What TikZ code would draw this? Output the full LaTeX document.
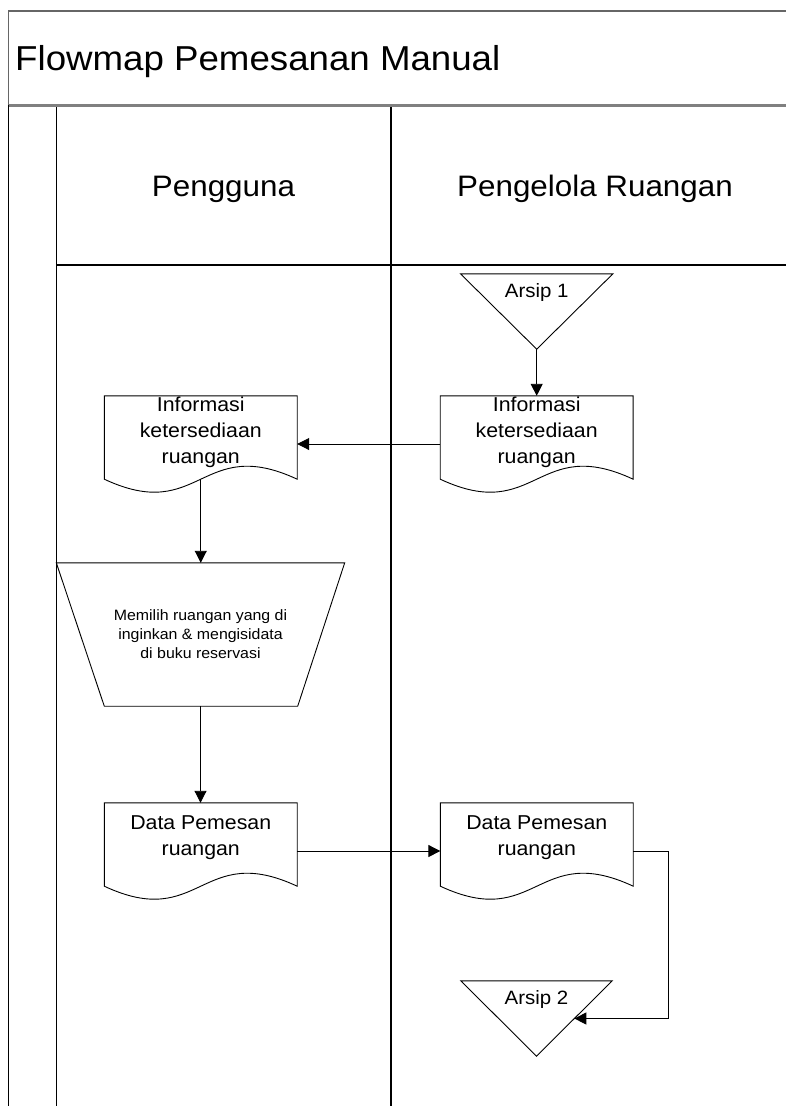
\documentclass[tikz,border=0pt]{standalone}
\usepackage{fontspec}
\setmainfont{Liberation Sans}[FakeStretch=1.06]
\usetikzlibrary{calc,arrows.meta}
\newcommand\docpath[1]{%
  \draw[shapeline] (#1.north west) -- (#1.north east) -- ($(#1.south east)+(0,-13)$)
    .. controls ($(#1.south)+(0,-58)$) and ($(#1.south)+(0,32)$) .. ($(#1.south west)+(0,-13)$) -- cycle;}
\newcommand\archpath[1]{%
  \draw[shapeline] (#1.north west) -- (#1.north east) -- (#1.south) -- cycle;}
\begin{document}
\begin{tikzpicture}[x=1pt,y=-1pt,
  shapeline/.style={line width=0.9pt, line join=miter},
  laneline/.style={line width=1.1pt},
  titleline/.style={line width=1.6pt, draw=black!60},
  sepline/.style={line width=3pt, draw=black!50},
  arr/.style={-{Triangle[length=12pt,width=12pt]}, line width=0.9pt},
  docbox/.style={minimum width=192.5pt, minimum height=96pt, inner sep=0pt, draw=none},
  doctext/.style={font=\fontsize{20.1}{26}\selectfont, align=center, inner sep=0pt},
  archbox/.style={minimum width=152pt, minimum height=75pt, inner sep=0pt, draw=none},
  archtext/.style={font=\fontsize{19.3}{24}\selectfont, inner sep=0pt},
  traptext/.style={font=\fontsize{15}{19}\selectfont, align=center, inner sep=0pt},
  headtext/.style={font=\fontsize{29.6}{34}\selectfont, inner sep=0pt},
  titletext/.style={font=\fontsize{34.6}{40}\selectfont, inner sep=0pt}
]
\useasboundingbox (0,0) rectangle (786,1106);

% frame
\draw[titleline] (786,11) -- (8.5,11) -- (8.5,105);
\draw[laneline] (8.5,105) -- (8.5,1106);
\draw[laneline] (56.5,105) -- (56.5,1106);
\draw[laneline] (391,105) -- (391,1106);
\draw[laneline] (56.5,265) -- (786,265);
\draw[sepline] (8.5,105) -- (786,105);

% headings
\node[titletext, anchor=base west] (title) at (15,70.5) {Flowmap Pemesanan Manual};
\node[headtext, anchor=base] (lane1) at (223.5,196) {Pengguna};
\node[headtext, anchor=base] (lane2) at (595,196) {Pengelola Ruangan};

% shapes
\node[archbox, label={[archtext, yshift=18.5pt]center:Arsip 1}] (a1) at (536.7,311.5) {};
\archpath{a1}

\node[docbox, label={[doctext, yshift=12pt]center:{Informasi\\ketersediaan\\ruangan}}] (rdoc1) at (536.7,444) {};
\docpath{rdoc1}
\node[docbox, label={[doctext, yshift=12pt]center:{Informasi\\ketersediaan\\ruangan}}] (ldoc1) at (200.75,444) {};
\docpath{ldoc1}

\node[minimum width=288pt, minimum height=143pt, inner sep=0pt, traptext] (trap) at (200.5,634.5)
  {Memilih ruangan yang di\\inginkan \& mengisidata\\di buku reservasi};
\draw[shapeline] (trap.north west) -- (trap.north east) -- ($(trap.south east)+(-47,0)$)
  -- ($(trap.south west)+(48,0)$) -- cycle;

\node[docbox, label={[doctext, yshift=13pt]center:{Data Pemesan\\ruangan}}] (ldoc2) at (200.75,851) {};
\docpath{ldoc2}
\node[docbox, label={[doctext, yshift=13pt]center:{Data Pemesan\\ruangan}}] (rdoc2) at (536.8,851) {};
\docpath{rdoc2}

\node[archbox, minimum width=151pt, label={[archtext, yshift=19.5pt]center:Arsip 2}] (a2) at (536.5,1018.5) {};
\archpath{a2}

% connector points
\coordinate (ldoc1w) at ($(ldoc1.south)+(0,-13)$);
\coordinate (a2in) at ($(a2.north east)!0.5!(a2.south)$);

% connectors
\draw[arr] (a1.south) -- (rdoc1.north);
\draw[arr] (rdoc1.west) -- (ldoc1.east);
\draw[arr] (ldoc1w) -- (ldoc1w |- trap.north);
\draw[arr] (trap.south) -- (trap.south |- ldoc2.north);
\draw[arr] (ldoc2.east) -- (rdoc2.west);
\draw[arr] (rdoc2.east) -- ++(35.5,0) |- (a2in);
\end{tikzpicture}
\end{document}
